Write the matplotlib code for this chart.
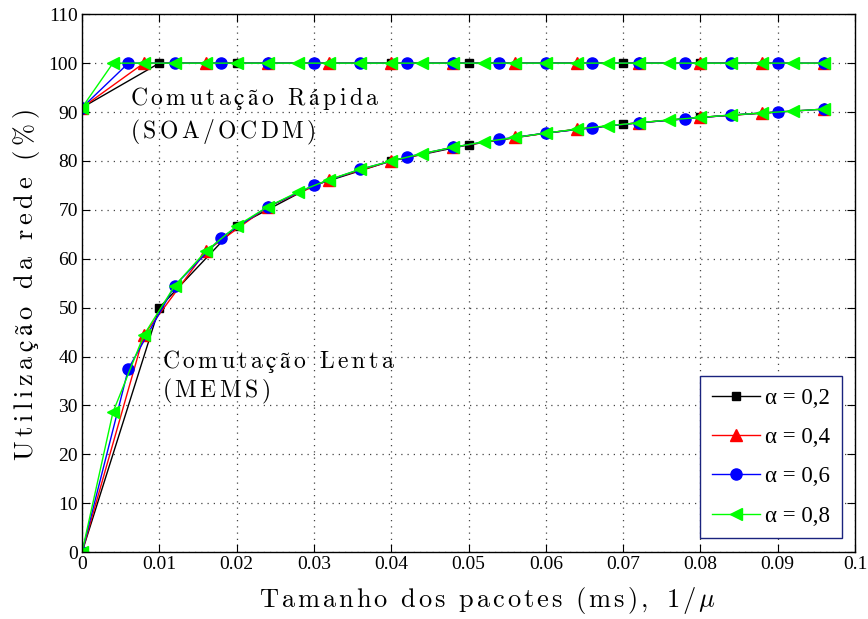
import matplotlib
matplotlib.use("Agg")
import matplotlib.pyplot as plt
import numpy as np

plt.rcParams['mathtext.fontset'] = 'cm'

# x grids (ms) per alpha
x_02 = [0, 0.01, 0.02, 0.03, 0.04, 0.05, 0.06, 0.07, 0.08, 0.09]
x_04 = [0, 0.008, 0.016, 0.024, 0.032, 0.040, 0.048, 0.056, 0.064, 0.072, 0.080, 0.088, 0.096]
x_06 = [0, 0.006, 0.012, 0.018, 0.024, 0.030, 0.036, 0.042, 0.048, 0.054, 0.060,
        0.066, 0.072, 0.078, 0.084, 0.090, 0.096]
x_08 = [0, 0.004, 0.008, 0.012, 0.016, 0.020, 0.024, 0.028, 0.032, 0.036, 0.040,
        0.044, 0.048, 0.052, 0.056, 0.060, 0.064, 0.068, 0.072, 0.076, 0.080,
        0.084, 0.088, 0.092, 0.096]

# slow switching (MEMS) utilization
lenta_02 = [0, 50.0, 66.7, 75.0, 80.0, 83.3, 85.7, 87.5, 88.9, 90.0]
lenta_04 = [0, 44.4, 61.5, 70.6, 76.2, 80.0, 82.8, 84.8, 86.5, 87.8, 88.9, 89.8, 90.6]
lenta_06 = [0, 37.5, 54.5, 64.3, 70.6, 75.0, 78.3, 80.8, 82.8, 84.4, 85.7,
            86.8, 87.8, 88.6, 89.4, 90.0, 90.6]
lenta_08 = [0, 28.6, 44.4, 54.5, 61.5, 66.7, 70.6, 73.7, 76.2, 78.3, 80.0,
            81.5, 82.8, 83.9, 84.8, 85.7, 86.5, 87.2, 87.8, 88.4, 88.9,
            89.4, 89.8, 90.2, 90.6]

# fast switching (SOA/OCDM)
rapida_02 = [90.9] + [100] * (len(x_02) - 1)
rapida_04 = [90.9] + [100] * (len(x_04) - 1)
rapida_06 = [90.9] + [100] * (len(x_06) - 1)
rapida_08 = [90.9] + [100] * (len(x_08) - 1)


def spaced(s, tail='', gap=0.13):
    # latex-ish letter spacing via mathtext
    parts = []
    for ch in s:
        if ch == ' ':
            parts.append(r'\ ')
        elif ch == '%':
            parts.append(r'\%')
        else:
            parts.append(ch)
    sep = r'\hspace{%g}' % gap
    return r'$\mathrm{' + sep.join(parts) + '}' + tail + '$'


fig = plt.figure(figsize=(8.68, 6.19), dpi=100)
ax = fig.add_axes([0.0945, 0.108, 0.8905, 0.869])

series = [
    (x_02, lenta_02, rapida_02, 'k', 's', 5.5, 'α = 0,2'),
    (x_04, lenta_04, rapida_04, 'r', '^', 8, 'α = 0,4'),
    (x_06, lenta_06, rapida_06, 'b', 'o', 8, 'α = 0,6'),
    (x_08, lenta_08, rapida_08, '#00ff00', '<', 9, 'α = 0,8'),
]
for x, yl, yr, c, m, ms, lab in series:
    ax.plot(x, yl, color=c, marker=m, markersize=ms, lw=1.0, label=lab)
    ax.plot(x, yr, color=c, marker=m, markersize=ms, lw=1.0)

ax.set_xlim(0, 0.1)
ax.set_ylim(0, 110)
ax.set_xticks(np.arange(0, 0.1001, 0.01))
ax.set_xticklabels(['0', '0.01', '0.02', '0.03', '0.04', '0.05', '0.06',
                    '0.07', '0.08', '0.09', '0.1'])
ax.set_yticks(np.arange(0, 111, 10))
ax.tick_params(direction='in', top=True, right=True, length=6, labelsize=14, pad=3)
for lbl in ax.get_xticklabels() + ax.get_yticklabels():
    lbl.set_family('Liberation Serif')
ax.grid(True, linestyle=(0, (1, 4)), color='#444444', linewidth=0.9)
for sp in ax.spines.values():
    sp.set_linewidth(1.0)

ax.set_xlabel(spaced('Tamanho dos pacotes (ms), 1/', r'\hspace{0.13}\mu'), fontsize=19)
ax.set_ylabel(spaced('Utilização da rede (%)', gap=0.2), fontsize=19)
ax.xaxis.set_label_coords(0.524, -0.061)
ax.yaxis.set_label_coords(-0.052, 0.497)

ax.text(0.0062, 91.4, spaced('Comutação Rápida', gap=0.17), fontsize=17, va='baseline')
ax.text(0.0062, 84.7, spaced('(SOA/OCDM)', gap=0.17), fontsize=17, va='baseline')
ax.text(0.01035, 37.6, spaced('Comutação Lenta', gap=0.17), fontsize=17, va='baseline')
ax.text(0.01035, 31.7, spaced('(MEMS)', gap=0.17), fontsize=17, va='baseline')

leg = ax.legend(loc='lower right', prop={'family': 'Liberation Serif', 'size': 16.5},
                handlelength=2.1, handletextpad=0.25, borderpad=0.5,
                labelspacing=0.8, fancybox=False, framealpha=1,
                borderaxespad=0, bbox_to_anchor=(0.983, 0.026))
leg.get_frame().set_edgecolor('#1a237e')
leg.get_frame().set_linewidth(1.0)

fig.savefig('out.png', dpi=100)
